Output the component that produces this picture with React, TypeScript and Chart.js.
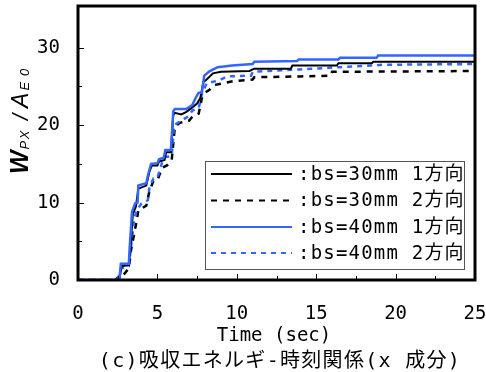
import { useEffect, useRef } from 'react';
import { Chart, registerables } from 'chart.js';

Chart.register(...registerables);

// ---- data ----
const T_30_1 = [0, 2.6, 2.75, 3.2, 3.3, 3.45, 3.65, 3.8, 4.3, 4.5, 4.65, 5.0, 5.1, 5.45, 5.55, 5.85, 6.0, 6.1, 6.5, 6.8, 7.2, 7.5, 7.7, 7.9, 8.1, 8.5, 9.0, 10.8, 11.1, 13.4, 13.5, 16.3, 16.4, 18.5, 18.6, 25];
const W_30_1 = [0, 0, 1.8, 1.9, 4.0, 8.5, 9.5, 11.8, 12.2, 14.0, 14.8, 14.8, 15.3, 15.5, 16.5, 16.5, 21.3, 21.6, 21.4, 21.7, 22.3, 22.8, 23.5, 25.6, 25.9, 26.7, 26.9, 27.0, 27.3, 27.3, 27.7, 27.7, 28.0, 28.0, 28.2, 28.2];

const T_30_2 = [0, 2.4, 2.5, 2.8, 3.2, 3.35, 3.7, 3.8, 4.3, 4.5, 4.75, 5.0, 5.3, 5.6, 5.9, 6.1, 6.4, 7.0, 7.2, 7.6, 7.8, 8.0, 8.3, 8.6, 9.8, 11.0, 11.1, 14.0, 15.9, 16.0, 25];
const W_30_2 = [0, 0, 0.3, 0.5, 1.5, 4.0, 7.7, 9.0, 9.6, 11.5, 12.8, 12.9, 14.5, 14.8, 15.5, 19.8, 20.3, 20.6, 21.1, 21.5, 23.5, 24.2, 24.6, 25.2, 25.7, 25.9, 26.2, 26.3, 26.4, 26.9, 27.0];

const T_40_1 = [0, 2.6, 2.7, 3.2, 3.25, 3.4, 3.6, 3.75, 3.8, 4.3, 4.4, 4.6, 5.0, 5.1, 5.4, 5.5, 5.85, 6.0, 6.1, 6.8, 7.2, 7.4, 7.6, 7.8, 7.95, 8.3, 8.8, 9.7, 11.0, 11.1, 13.8, 13.9, 16.4, 16.5, 18.8, 18.9, 25];
const W_40_1 = [0, 0, 2.1, 2.1, 4.0, 8.8, 9.9, 10.0, 12.2, 12.5, 13.5, 15.0, 15.1, 15.6, 15.8, 16.8, 16.8, 21.8, 22.1, 22.1, 22.6, 23.5, 24.2, 24.2, 26.4, 27.0, 27.5, 27.7, 27.9, 28.2, 28.3, 28.5, 28.5, 28.7, 28.7, 29.0, 29.0];

const T_40_2 = [0, 2.5, 2.7, 3.2, 3.35, 3.55, 3.7, 4.0, 4.4, 4.5, 4.75, 5.0, 5.3, 5.5, 5.9, 6.05, 6.5, 7.0, 7.2, 7.6, 7.8, 8.1, 8.9, 9.4, 10.9, 11.0, 14.0, 16.5, 19.2, 25];
const W_40_2 = [0, 0, 1.5, 1.8, 4.5, 8.0, 9.0, 9.9, 10.3, 12.0, 13.1, 13.2, 15.2, 15.9, 16.0, 20.0, 20.6, 21.2, 21.9, 22.2, 24.0, 25.4, 25.8, 26.3, 26.4, 26.9, 27.2, 27.5, 27.8, 27.9];

const SERIES_LABELS = [':bs=30mm 1方向', ':bs=30mm 2方向', ':bs=40mm 1方向', ':bs=40mm 2方向'];
const X_TICKS = [0, 5, 10, 15, 20, 25];
const X_MINOR = [2.5, 7.5, 12.5, 17.5, 22.5];
const Y_TICKS = [0, 10, 20, 30];
const Y_MINOR = [5, 15, 25];
const X_TITLE = 'Time (sec)';
const CAPTION = '(c)吸収エネルギ-時刻関係(x 成分)';

const FONT = "'DejaVu Sans Mono', 'Noto Sans CJK JP', monospace";
const BLUE = '#3366ff';

const pts = (t: number[], w: number[]) => t.map((x, i) => ({ x, y: w[i] }));

const decor = {
  id: 'decor',
  afterDraw(chart: any) {
    const { ctx, chartArea: a, scales } = chart;
    const xs = scales.x;
    const ys = scales.y;
    ctx.save();
    ctx.strokeStyle = '#000';
    ctx.lineWidth = 1;
    const seg = (x1: number, y1: number, x2: number, y2: number) => {
      ctx.beginPath();
      ctx.moveTo(x1, y1);
      ctx.lineTo(x2, y2);
      ctx.stroke();
    };
    X_TICKS.forEach((v) => {
      const px = Math.round(xs.getPixelForValue(v)) + 0.5;
      seg(px, a.bottom, px, a.bottom - 6);
    });
    X_MINOR.forEach((v) => {
      const px = Math.round(xs.getPixelForValue(v)) + 0.5;
      seg(px, a.bottom, px, a.bottom - 4);
    });
    Y_TICKS.forEach((v) => {
      const py = Math.round(ys.getPixelForValue(v)) + 0.5;
      seg(a.left, py, a.left + 6, py);
    });
    Y_MINOR.forEach((v) => {
      const py = Math.round(ys.getPixelForValue(v)) + 0.5;
      seg(a.left, py, a.left + 4, py);
    });
    // frame
    ctx.lineWidth = 3;
    ctx.strokeRect(a.left, a.top, a.right - a.left, a.bottom - a.top);

    // legend
    const lx = 205.5, ly = 161.5, lw = 259, lh = 108;
    ctx.fillStyle = '#fff';
    ctx.fillRect(lx, ly, lw, lh);
    ctx.lineWidth = 1;
    ctx.strokeStyle = '#555';
    ctx.strokeRect(lx, ly, lw, lh);
    const rows = [174, 200.5, 227, 253];
    const dsets = chart.data.datasets;
    dsets.forEach((ds: any, i: number) => {
      const y = rows[i];
      ctx.strokeStyle = ds.borderColor;
      ctx.lineWidth = 2;
      ctx.setLineDash(ds.borderDash || []);
      seg(211, y, 292, y);
      ctx.setLineDash([]);
      ctx.fillStyle = '#000';
      ctx.font = `19px ${FONT}`;
      (ctx as any).letterSpacing = '1.2px';
      ctx.textAlign = 'left';
      ctx.textBaseline = 'middle';
      ctx.fillText(ds.label, 298, y + 1);
    });

    // x title and caption
    (ctx as any).letterSpacing = '0px';
    ctx.fillStyle = '#000';
    ctx.textAlign = 'center';
    ctx.textBaseline = 'middle';
    ctx.font = `19px ${FONT}`;
    ctx.fillText(X_TITLE, 274, 336);
    (ctx as any).letterSpacing = '1.3px';
    ctx.font = `20px ${FONT}`;
    ctx.fillText(CAPTION, 280, 362);
    (ctx as any).letterSpacing = '0px';

    // y title: W_Px / A_E0 rotated
    ctx.save();
    ctx.translate(28, 174);
    ctx.rotate(-Math.PI / 2);
    ctx.textAlign = 'left';
    ctx.textBaseline = 'alphabetic';
    let x = 0;
    const part = (s: string, font: string, dy: number, sp: number, after: number) => {
      ctx.font = font;
      (ctx as any).letterSpacing = `${sp}px`;
      ctx.fillText(s, x, dy);
      x += ctx.measureText(s).width + after;
    };
    const sub = "italic 13px 'Liberation Sans', Arial, sans-serif";
    part('W', "bold italic 25px 'Liberation Sans', Arial, sans-serif", 0, 0, 1);
    part('PX', sub, 1, 1.5, 9);
    part('/', "italic 22px 'Liberation Sans', Arial, sans-serif", 0, 0, 6);
    part('A', "italic 23px 'Liberation Sans', Arial, sans-serif", 0, 0, 2);
    part('E0', sub, 1, 6, 0);
    (ctx as any).letterSpacing = '0px';
    ctx.restore();

    ctx.restore();
  },
};

export default function App() {
  const ref = useRef<HTMLCanvasElement | null>(null);
  useEffect(() => {
    if (!ref.current) return;
    const chart = new Chart(ref.current, {
      type: 'line',
      data: {
        datasets: [
          { label: SERIES_LABELS[0], data: pts(T_30_1, W_30_1), borderColor: '#000', borderWidth: 2, order: 1 },
          { label: SERIES_LABELS[1], data: pts(T_30_2, W_30_2), borderColor: '#000', borderWidth: 2.5, borderDash: [6, 6], order: 3 },
          { label: SERIES_LABELS[2], data: pts(T_40_1, W_40_1), borderColor: BLUE, borderWidth: 2.5, order: 0 },
          { label: SERIES_LABELS[3], data: pts(T_40_2, W_40_2), borderColor: BLUE, borderWidth: 2.5, borderDash: [5, 5], order: 2 },
        ] as any,
      },
      options: {
        animation: false,
        responsive: true,
        maintainAspectRatio: false,
        layout: { padding: { top: 6, right: 11, bottom: 0, left: 0 } },
        elements: { point: { radius: 0 }, line: { tension: 0, fill: false } },
        plugins: { legend: { display: false }, tooltip: { enabled: false }, title: { display: false } },
        scales: {
          x: {
            type: 'linear',
            min: 0,
            max: 25,
            grid: { display: false, drawTicks: false },
            border: { display: false },
            afterBuildTicks: (s: any) => { s.ticks = X_TICKS.map((v) => ({ value: v })); },
            afterFit: (s: any) => {
              s.height = 92;
              s.paddingLeft = 0; s.paddingRight = 0; s.paddingTop = 0; s.paddingBottom = 0;
            },
            ticks: { padding: 23, color: '#000', font: { family: FONT, size: 19 }, maxRotation: 0, autoSkip: false },
          },
          y: {
            type: 'linear',
            min: 0,
            max: 35.4,
            grid: { display: false, drawTicks: false },
            border: { display: false },
            afterBuildTicks: (s: any) => { s.ticks = Y_TICKS.map((v) => ({ value: v })); },
            afterFit: (s: any) => {
              s.width = 78;
              s.paddingLeft = 0; s.paddingRight = 0; s.paddingTop = 0; s.paddingBottom = 0;
            },
            ticks: { padding: 18, color: '#000', font: { family: FONT, size: 19 } },
          },
        },
      } as any,
      plugins: [decor],
    });
    return () => chart.destroy();
  }, []);
  return (
    <div style={{ position: 'fixed', left: 0, top: 0, width: 486, height: 372, background: '#fff' }}>
      <canvas ref={ref} />
    </div>
  );
}
